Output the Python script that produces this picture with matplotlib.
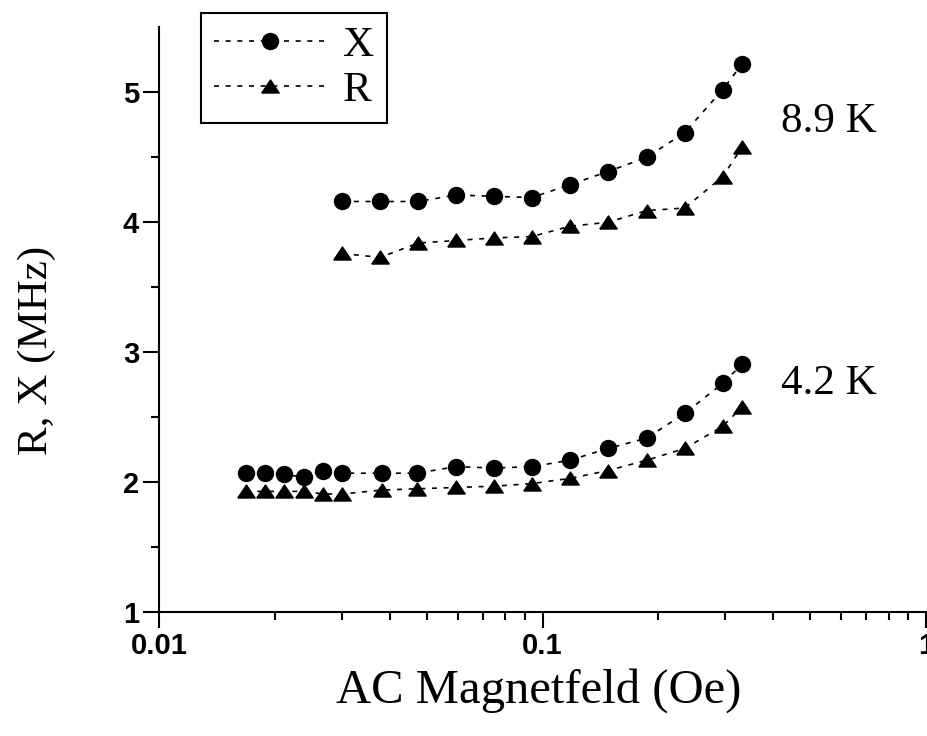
import numpy as np
import matplotlib
matplotlib.use("Agg")
import matplotlib.pyplot as plt

# 8.9 K Daten
x_89 = [0.0300, 0.0377, 0.0473, 0.0595, 0.0747, 0.0937, 0.118, 0.148, 0.187, 0.235, 0.295, 0.332]
X_89 = [4.16, 4.16, 4.16, 4.21, 4.20, 4.19, 4.29, 4.39, 4.50, 4.69, 5.02, 5.22]
R_89 = [3.76, 3.73, 3.84, 3.86, 3.88, 3.89, 3.97, 4.00, 4.09, 4.11, 4.35, 4.58]

# 4.2 K Daten
x_42 = [0.0168, 0.0189, 0.0212, 0.0238, 0.0268, 0.0300, 0.0380, 0.0470,
        0.0595, 0.0747, 0.0937, 0.118, 0.148, 0.187, 0.235, 0.295, 0.332]
X_42 = [2.07, 2.07, 2.06, 2.04, 2.09, 2.07, 2.07, 2.07,
        2.12, 2.11, 2.12, 2.17, 2.26, 2.34, 2.53, 2.76, 2.91]
R_42 = [1.93, 1.93, 1.93, 1.93, 1.91, 1.91, 1.94, 1.95,
        1.96, 1.97, 1.99, 2.03, 2.09, 2.17, 2.26, 2.43, 2.58]

serif = "Liberation Serif"
sans = "Liberation Sans"

# breites Dreieck
tri = [(-1, -0.75), (1, -0.75), (0, 0.75), (-1, -0.75)]
ls = (0, (3, 4))

fig = plt.figure(figsize=(9.28, 7.36), dpi=100)
ax = fig.add_axes([0.1717, 0.1681, 0.8259, 0.7948])

ax.plot(x_89, X_89, color="black", ls=ls, lw=1.2, marker="o", ms=11.5, label="X")
ax.plot(x_89, R_89, color="black", ls=ls, lw=1.2, marker=tri, ms=12.5, label="R")
ax.plot(x_42, X_42, color="black", ls=ls, lw=1.2, marker="o", ms=11.5)
ax.plot(x_42, R_42, color="black", ls=ls, lw=1.2, marker=tri, ms=12.5)

ax.set_xscale("log")
ax.set_xlim(0.01, 1)
ax.set_ylim(1, 5.5)
ax.set_xticks([0.01, 0.1, 1], labels=["0.01", "0.1", "1"])
ax.xaxis.set_minor_formatter(matplotlib.ticker.NullFormatter())
ax.set_yticks([1, 2, 3, 4, 5])
ax.set_yticks(np.arange(1.5, 5.5, 1.0), minor=True)

for s in ["top", "right"]:
    ax.spines[s].set_visible(False)
for s in ["left", "bottom"]:
    ax.spines[s].set_linewidth(1.5)

ax.tick_params(which="major", direction="out", length=11.5, width=1.5, pad=3)
ax.tick_params(which="minor", direction="out", length=5.8, width=1.5)
for lab in ax.get_xticklabels() + ax.get_yticklabels():
    lab.set_fontfamily(sans)
    lab.set_fontsize(21)
    lab.set_fontweight("bold")

ax.set_xlabel("AC Magnetfeld (Oe)", fontfamily=serif, fontsize=35)
ax.xaxis.set_label_coords(0.495, -0.095)
ax.set_ylabel("R, X (MHz)", fontfamily=serif, fontsize=31)
ax.yaxis.set_label_coords(-0.135, 0.448)

ax.text(0.42, 4.77, "8.9 K", fontfamily=serif, fontsize=31, ha="left", va="center")
ax.text(0.42, 2.76, "4.2 K", fontfamily=serif, fontsize=31, ha="left", va="center")

leg = fig.legend(loc="upper left", bbox_to_anchor=(0.2163, 0.9827), borderaxespad=0,
                 prop={"family": serif, "size": 31}, fancybox=False, framealpha=1,
                 edgecolor="black", numpoints=1, handlelength=2.6, handletextpad=0.4,
                 labelspacing=0.15, borderpad=0.3)
leg.get_frame().set_linewidth(1.5)

fig.savefig("out.png", dpi=100)
